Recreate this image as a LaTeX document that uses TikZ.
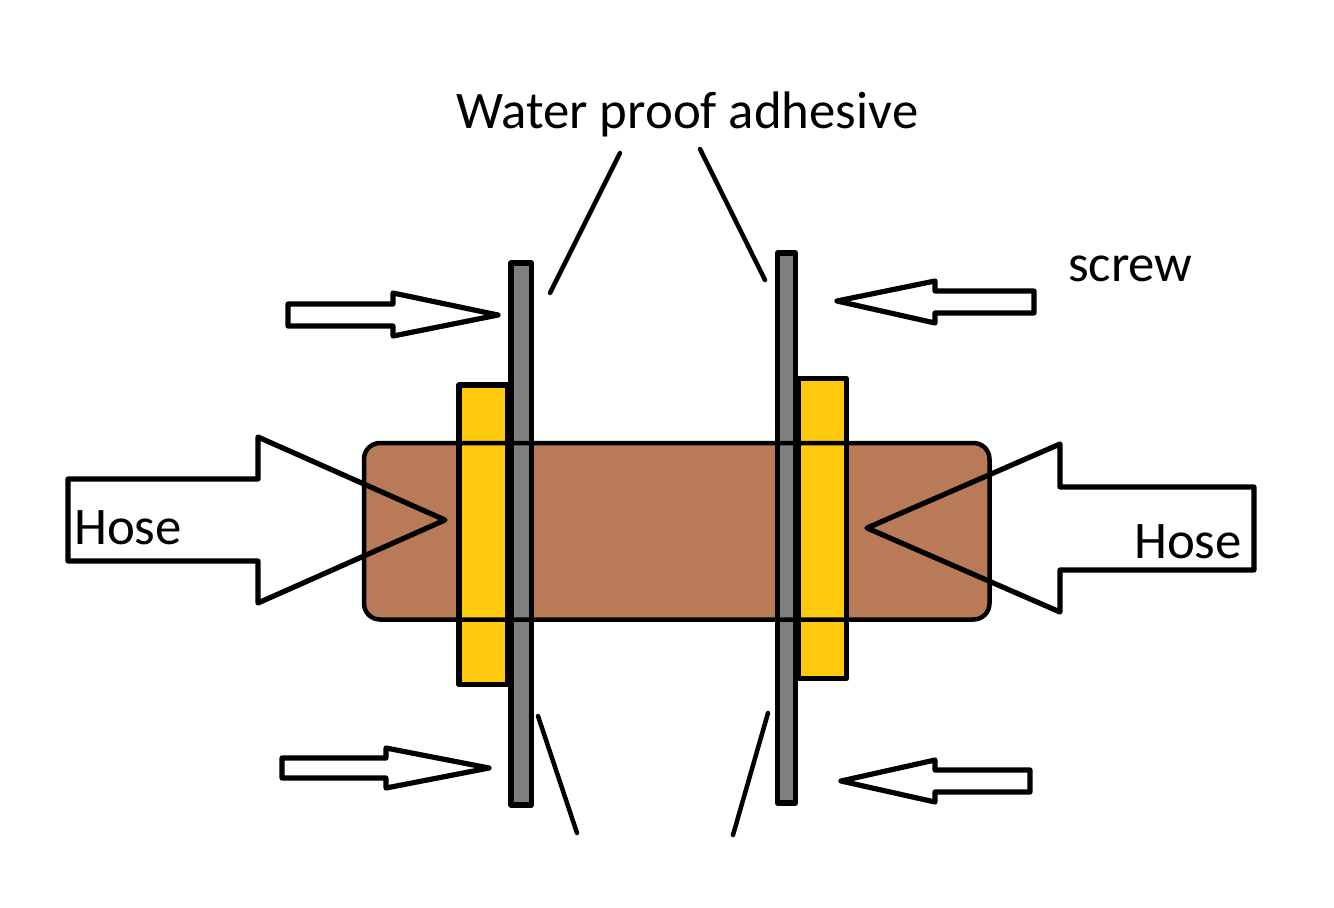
\documentclass[tikz,border=0pt]{standalone}
\usepackage{fontspec}
\setmainfont{Carlito}
\definecolor{hosebrown}{HTML}{B97A57}
\definecolor{sealyellow}{HTML}{FFC90E}
\definecolor{wallgray}{HTML}{7F7F7F}
\tikzset{
  outline/.style={draw=black,line width=5.2pt,line join=round},
  leader/.style={draw=black,line width=4.5pt,line cap=round},
  label/.style={inner sep=0pt,anchor=base west,font=\fontsize{52.8}{55}\selectfont},
}
\begin{document}
\begin{tikzpicture}[x=1pt,y=-1pt]
\useasboundingbox (0,0) rectangle (1334,908);
% hose body fill
\fill[hosebrown,rounded corners=16pt] (364,443) rectangle (989.5,619.5);
% seals and walls
\path[outline,fill=sealyellow] (459,385) rectangle (508,684.5);
\path[outline,fill=sealyellow] (798,378.5) rectangle (846.5,678.5);
\path[outline,fill=wallgray] (511,263) rectangle (531.5,805);
\path[outline,fill=wallgray] (777.5,253) rectangle (795.5,803);
% hose body outline over everything
\draw[black,line width=4.5pt,rounded corners=16pt] (364,443) rectangle (989.5,619.5);
% big arrows
\draw[outline] (68,479)--(258,479)--(258,437)--(445,520)--(258,603)--(258,561)--(68,561)--cycle;
\draw[outline] (1254,487)--(1060,487)--(1060,444)--(867,528)--(1060,612)--(1060,570)--(1254,570)--cycle;
% small arrows
\draw[outline] (288,304)--(393,304)--(393,293)--(498,315)--(393,336)--(393,326)--(288,326)--cycle;
\draw[outline] (1034,291)--(935,291)--(935,281)--(837,301)--(935,323)--(935,313)--(1034,313)--cycle;
\draw[outline] (282,758)--(386,758)--(386,748)--(489,768)--(386,788)--(386,778)--(282,778)--cycle;
\draw[outline] (1030,770)--(935,770)--(935,760)--(841,781)--(935,802)--(935,792)--(1030,792)--cycle;
% leader lines
\coordinate (a1) at (620,153); \coordinate (a2) at (550,293);
\coordinate (b1) at (700,149); \coordinate (b2) at (765,280);
\coordinate (c1) at (538,716); \coordinate (c2) at (577,833);
\coordinate (d1) at (768,713); \coordinate (d2) at (733,835);
\draw[leader] (a1)--(a2);
\draw[leader] (b1)--(b2);
\draw[leader] (c1)--(c2);
\draw[leader] (d1)--(d2);
% labels
\node[label] (adh) at (456,128) {Water proof adhesive};
\node[label] (scr) at (1068,281) {screw};
\node[label] (hl) at (74,544) {Hose};
\node[label] (hr) at (1134,558) {Hose};
\end{tikzpicture}
\end{document}
